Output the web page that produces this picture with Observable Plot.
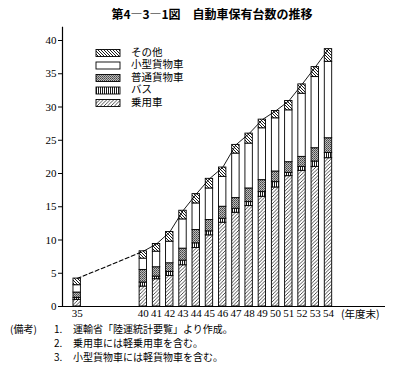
<!DOCTYPE html>
<html><head><meta charset="utf-8">
<script src="https://cdn.jsdelivr.net/npm/d3@7"></script>
<script src="https://cdn.jsdelivr.net/npm/@observablehq/plot@0.6"></script>
<style>body{margin:0;background:#fff} svg{display:block}</style>
</head><body><div id="chart"></div>
<script>
// 年度末（昭和）
const years = [35, 40, 41, 42, 43, 44, 45, 46, 47, 48, 49, 50, 51, 52, 53, 54];
const types = ["乗用車", "バス", "普通貨物車", "小型貨物車", "その他"];
// 百万台
const passenger  = [1.0, 3.0, 4.1, 4.6, 6.2, 8.8, 10.7, 12.6, 14.1, 15.1, 16.5, 17.9, 19.6, 20.4, 21.0, 22.3];
const bus        = [0.3, 0.6, 0.4, 0.6, 0.7, 0.7, 0.6, 0.6, 0.6, 0.6, 0.7, 0.8, 0.5, 0.6, 0.8, 0.8];
const heavyTruck = [0.8, 1.9, 1.4, 1.3, 1.8, 2.0, 1.7, 1.8, 1.6, 2.05, 1.8, 1.6, 1.6, 1.5, 2.0, 2.2];
const smallTruck = [1.1, 1.7, 2.35, 3.25, 4.4, 4.0, 4.75, 4.5, 6.7, 6.75, 7.8, 8.0, 7.8, 9.5, 10.7, 11.5];
const other      = [1.0, 1.1, 1.15, 1.45, 1.3, 1.4, 1.45, 1.4, 1.3, 1.5, 1.3, 1.1, 1.4, 1.4, 1.5, 1.9];
const yTicks = [0, 5, 10, 15, 20, 25, 30, 35, 40];
const titleText = "第4―3―1図　自動車保有台数の推移";
const xUnit = "(年度末)";
const notesHead = "(備考)";
const notes = ["運輸省「陸運統計要覧」より作成。", "乗用車には軽乗用車を含む。", "小型貨物車には軽貨物車を含む。"];

const series = [passenger, bus, heavyTruck, smallTruck, other];
const data = [];
years.forEach((yr, i) => series.forEach((s, j) => data.push({year: yr, type: types[j], value: s[i]})));
const totals = years.map((yr, i) => ({year: yr, total: d3.sum(series, s => s[i])}));

const xDomain = [33.89, 58.31];
const hw = 0.28;
const cjk = "'Noto Sans CJK JP', sans-serif";

const chart = Plot.plot({
  width: 393, height: 370,
  marginLeft: 62, marginRight: 8, marginTop: 26.7, marginBottom: 64,
  x: {domain: xDomain, ticks: years, tickSize: 0, tickPadding: 3, tickFormat: d => String(d), label: null},
  y: {domain: [0, 42], ticks: yTicks, tickSize: 4, tickPadding: 2, label: null},
  color: {domain: types, range: types.map((t, i) => `url(#pat${i})`)},
  style: {fontFamily: "'Liberation Serif', serif", fontSize: "11px", color: "#000", background: "#fff"},
  marks: [
    Plot.rect(data, Plot.stackY({x: "year", y: "value", x1: d => d.year - hw, x2: d => d.year + hw, fill: "type", stroke: "#000", strokeWidth: 0.9})),
    Plot.line(totals.filter(d => d.year >= 40), {x: "year", y: "total", stroke: "#000", strokeWidth: 0.9}),
    Plot.line(totals.filter(d => d.year <= 40), {x: "year", y: "total", stroke: "#000", strokeWidth: 1.1, strokeDasharray: "4,2.5"}),
    Plot.ruleX([xDomain[0]], {stroke: "#000", strokeWidth: 1.2}),
    Plot.ruleY([0], {stroke: "#000", strokeWidth: 1.2})
  ]
});

const svg = d3.select(chart);
const defs = svg.insert("defs", ":first-child");
// 乗用車: "/" hatch
let p = defs.append("pattern").attr("id", "pat0").attr("patternUnits", "userSpaceOnUse").attr("width", 3.5).attr("height", 3.5);
p.append("rect").attr("width", 3.5).attr("height", 3.5).attr("fill", "#fff");
p.append("path").attr("d", "M-1,1 L1,-1 M0,3.5 L3.5,0 M2.5,4.5 L4.5,2.5").attr("stroke", "#000").attr("stroke-width", 0.7);
// バス: vertical lines
p = defs.append("pattern").attr("id", "pat1").attr("patternUnits", "userSpaceOnUse").attr("width", 2).attr("height", 2);
p.append("rect").attr("width", 2).attr("height", 2).attr("fill", "#fff");
p.append("rect").attr("x", 0).attr("width", 0.9).attr("height", 2).attr("fill", "#000");
// 普通貨物車: dotted gray
p = defs.append("pattern").attr("id", "pat2").attr("patternUnits", "userSpaceOnUse").attr("width", 2).attr("height", 2);
p.append("rect").attr("width", 2).attr("height", 2).attr("fill", "#bbb");
p.append("rect").attr("width", 1).attr("height", 1).attr("fill", "#444");
p.append("rect").attr("x", 1).attr("y", 1).attr("width", 1).attr("height", 1).attr("fill", "#666");
// 小型貨物車: white
p = defs.append("pattern").attr("id", "pat3").attr("patternUnits", "userSpaceOnUse").attr("width", 2).attr("height", 2);
p.append("rect").attr("width", 2).attr("height", 2).attr("fill", "#fff");
// その他: "\" hatch
p = defs.append("pattern").attr("id", "pat4").attr("patternUnits", "userSpaceOnUse").attr("width", 3).attr("height", 3);
p.append("rect").attr("width", 3).attr("height", 3).attr("fill", "#fff");
p.append("path").attr("d", "M-1,2 L1,4 M0,0 L3,3 M2,-1 L4,1").attr("stroke", "#000").attr("stroke-width", 0.9);

// title
svg.append("text").attr("x", 212).attr("y", 16).attr("text-anchor", "middle").attr("dominant-baseline", "middle")
  .attr("font-family", cjk).attr("font-weight", "bold").attr("font-size", 12).text(titleText);

// legend
const legendOrder = [4, 3, 2, 1, 0];
const lg = svg.append("g").attr("text-anchor", "start");
legendOrder.forEach((ti, k) => {
  const cy = 53 + k * 12.5;
  lg.append("rect").attr("x", 96).attr("y", cy - 3.5).attr("width", 24).attr("height", 7)
    .attr("fill", `url(#pat${ti})`).attr("stroke", "#000").attr("stroke-width", 0.9);
  lg.append("text").attr("x", 131).attr("y", cy).attr("dominant-baseline", "middle").attr("text-anchor", "start")
    .attr("font-family", cjk).attr("font-size", 10.5).text(types[ti]);
});

// x unit
svg.append("text").attr("x", 341).attr("y", 315).attr("dominant-baseline", "middle").attr("text-anchor", "start")
  .attr("font-family", cjk).attr("font-size", 10.5).text(xUnit);

// notes
const ng = svg.append("g").attr("font-family", cjk).attr("font-size", 10).attr("text-anchor", "start");
ng.append("text").attr("x", 10).attr("y", 330).attr("dominant-baseline", "middle").attr("text-anchor", "start").text(notesHead);
notes.forEach((t, i) => {
  const y = 330 + i * 14;
  ng.append("text").attr("x", 54).attr("y", y).attr("dominant-baseline", "middle").attr("text-anchor", "start").text((i + 1) + ".");
  ng.append("text").attr("x", 73).attr("y", y).attr("dominant-baseline", "middle").attr("text-anchor", "start").text(t);
});

document.getElementById("chart").append(chart);
</script>
</body></html>
